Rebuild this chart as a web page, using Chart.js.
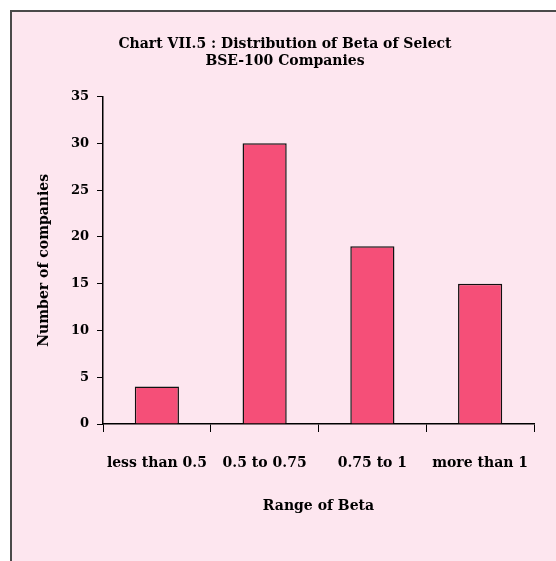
<!DOCTYPE html>
<html>
<head>
<meta charset="utf-8">
<script src="https://cdn.jsdelivr.net/npm/chart.js@4"></script>
<style>
html,body{margin:0;padding:0;background:#fff;}
#frame{position:absolute;left:10px;top:10px;width:546px;height:551px;background:#fde6ef;border-left:2px solid #4a4a4a;border-top:2px solid #4a4a4a;box-sizing:border-box;}
#wrap{position:absolute;left:0;top:0;width:544px;height:549px;}
</style>
</head>
<body>
<div id="frame"><div id="wrap"><canvas id="c"></canvas></div></div>
<script>
const categories=['less than 0.5','0.5 to 0.75','0.75 to 1','more than 1'];
const companies=[4,30,19,15];
const yTicks=[0,5,10,15,20,25,30,35];

const serif="'DejaVu Serif','Liberation Serif',serif";
const f={family:serif,size:13,weight:'bold'};

new Chart(document.getElementById('c'),{
  type:'bar',
  data:{labels:categories,datasets:[{data:companies,backgroundColor:'#f54f78',borderColor:'#111',borderWidth:1.5,categoryPercentage:0.82,barPercentage:0.5}]},
  options:{
    responsive:true,maintainAspectRatio:false,animation:false,
    layout:{padding:{left:24,right:22,top:0,bottom:46}},
    plugins:{
      legend:{display:false},tooltip:{enabled:false},
      title:{display:true,text:['Chart VII.5 : Distribution of Beta of Select','BSE-100 Companies'],
        color:'#000',font:{family:serif,size:14,weight:'bold'},padding:{top:24,bottom:27},lineHeight:1.2}
    },
    scales:{
      x:{
        grid:{display:true,drawOnChartArea:false,offset:true,color:'#000',tickLength:8,tickColor:'#000'},
        border:{color:'#000',width:1.5},
        ticks:{color:'#000',font:{family:serif,size:14,weight:'bold'},padding:23,maxRotation:0},
        title:{display:true,text:'Range of Beta',color:'#000',font:{family:serif,size:14,weight:'bold'},padding:0},
        afterFit(s){s.height=91;}
      },
      y:{
        min:0,max:35,
        afterBuildTicks(s){s.ticks=yTicks.map(v=>({value:v}));},
        grid:{display:true,drawOnChartArea:false,color:'#000',tickLength:6,tickColor:'#000'},
        border:{color:'#000',width:1.5},
        ticks:{color:'#000',font:f,padding:8},
        title:{display:true,text:'Number of companies',color:'#000',font:{family:serif,size:14,weight:'bold'},padding:0},
        afterFit(s){s.width=67;}
      }
    }
  }
});
</script>
</body>
</html>
